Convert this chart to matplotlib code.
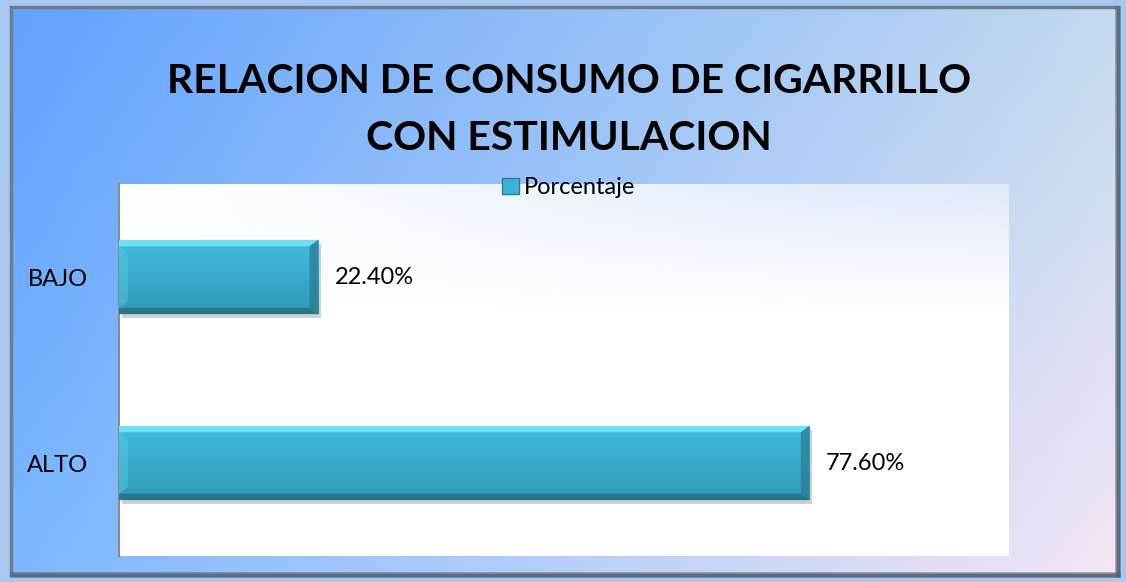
import matplotlib
matplotlib.use("Agg")
import matplotlib.pyplot as plt
import matplotlib.patheffects as pe
from matplotlib.colors import to_rgb
from matplotlib.patches import Rectangle, Polygon
import numpy as np

plt.rcParams["font.family"] = ["Lato", "DejaVu Sans"]

categories = ["ALTO", "BAJO"]
values = [77.6, 22.4]
value_labels = ["77.60%", "22.40%"]
series_name = "Porcentaje"
title_lines = ["RELACION DE CONSUMO DE CIGARRILLO", "CON ESTIMULACION"]

W, H = 1126, 582
fig = plt.figure(figsize=(W / 100, H / 100), dpi=100)
fig.patch.set_facecolor("#a9c8f0")

# background gradient of the chart area
bg = fig.add_axes([0, 0, 1, 1])
bg.set_xlim(0, W)
bg.set_ylim(H, 0)
bg.axis("off")
tl, tr = np.array(to_rgb("#62a2ff")), np.array(to_rgb("#c2daf0"))
bl, br = np.array(to_rgb("#7cb8ff")), np.array(to_rgb("#f4e6f4"))
u = np.linspace(0, 1, 200)[None, :, None]
v = np.linspace(0, 1, 100)[:, None, None]
grad = (1 - u) * (1 - v) * tl + u * (1 - v) * tr + (1 - u) * v * bl + u * v * br
bg.imshow(grad, extent=(11, 1118, 575, 7), aspect="auto", zorder=1)
bg.add_patch(Rectangle((11, 7), 1107, 568, fill=False, ec="#6f7c8c", lw=2.5, zorder=2))
bg.plot([1118, 1118], [9, 575], color="#55606c", lw=4, alpha=0.6, zorder=2)
bg.plot([13, 1118], [575, 575], color="#55606c", lw=4, alpha=0.6, zorder=2)

for i, line in enumerate(title_lines):
    fig.text(569 / W, 1 - (82 + 56 * i) / H, line, ha="center", va="center",
             fontsize=29.4, fontweight="bold", color="black")

ax = fig.add_axes([119 / W, 1 - 556 / H, 890 / W, 372 / H])
ax.patch.set_alpha(0)

# plot area: white fading slightly toward the top right
px = np.linspace(0, 1, 200)[None, :]
py = np.linspace(0, 1, 100)[:, None]
fade = 1 - 0.55 * px ** 1.5 * np.clip(1 - py / 0.35, 0, 1)
area = np.ones((100, 200, 4))
area[..., 3] = fade
ax.imshow(area, extent=(0, 100, -0.5, 1.5), origin="upper", aspect="auto", zorder=0)

ypos = np.arange(len(categories))
bars = ax.barh(ypos, values, height=0.4, color="#3ab4d4", zorder=2,
               label=series_name)
top_c, bot_c = np.array(to_rgb("#42bedf")), np.array(to_rgb("#3098b6"))
for b in bars:
    b.set_path_effects([pe.SimplePatchShadow(offset=(2, -3), shadow_rgbFace="#444444", alpha=0.25),
                        pe.Normal()])
    x0, y0, w, h = b.get_x(), b.get_y(), b.get_width(), b.get_height()
    t = np.linspace(0, 1, 50)[:, None, None]
    g = top_c * (1 - t) + bot_c * t
    im = ax.imshow(g, extent=(x0, x0 + w, y0, y0 + h), origin="upper", aspect="auto", zorder=3)
    im.set_clip_path(b)
    dx, dy = 1.0, 0.035
    ax.add_patch(Polygon([(x0, y0 + h), (x0 + w, y0 + h), (x0 + w - dx, y0 + h - dy), (x0, y0 + h - dy)],
                         closed=True, fc="#80ecfc", ec="none", alpha=0.75, zorder=4))
    ax.add_patch(Polygon([(x0, y0), (x0 + w, y0), (x0 + w - dx, y0 + dy), (x0, y0 + dy)],
                         closed=True, fc="#25687c", ec="none", alpha=0.7, zorder=4))
    ax.add_patch(Polygon([(x0 + w, y0), (x0 + w, y0 + h), (x0 + w - dx, y0 + h - dy), (x0 + w - dx, y0 + dy)],
                         closed=True, fc="#2a7d94", ec="none", alpha=0.75, zorder=4))
    ax.add_patch(Polygon([(x0, y0 + h - dy), (x0 + dx, y0 + h - 2 * dy), (x0 + dx, y0 + 2 * dy), (x0, y0 + dy)],
                         closed=True, fc="#55c8e4", ec="none", alpha=0.5, zorder=4))

for yv, val, lab in zip(ypos, values, value_labels):
    ax.text(val + 1.8, yv, lab, va="center", ha="left", fontsize=17, color="black")

ax.set_xlim(0, 100)
ax.set_ylim(-0.5, 1.5)
ax.set_yticks(ypos)
ax.set_yticklabels(categories, fontsize=17)
ax.tick_params(axis="y", length=0, pad=22)
ax.set_xticks([])
for s in ["top", "right", "bottom"]:
    ax.spines[s].set_visible(False)
ax.spines["left"].set_color("#8a8a8a")
ax.spines["left"].set_linewidth(1.5)

leg = ax.legend(loc="upper center", bbox_to_anchor=(0.505, 1.075), frameon=False,
                fontsize=17, handlelength=0.7, handleheight=0.7, handletextpad=0.2)
for hnd in leg.legend_handles:
    hnd.set_path_effects([])
    hnd.set_edgecolor("#2a7d94")

fig.savefig("out.png", dpi=100)
